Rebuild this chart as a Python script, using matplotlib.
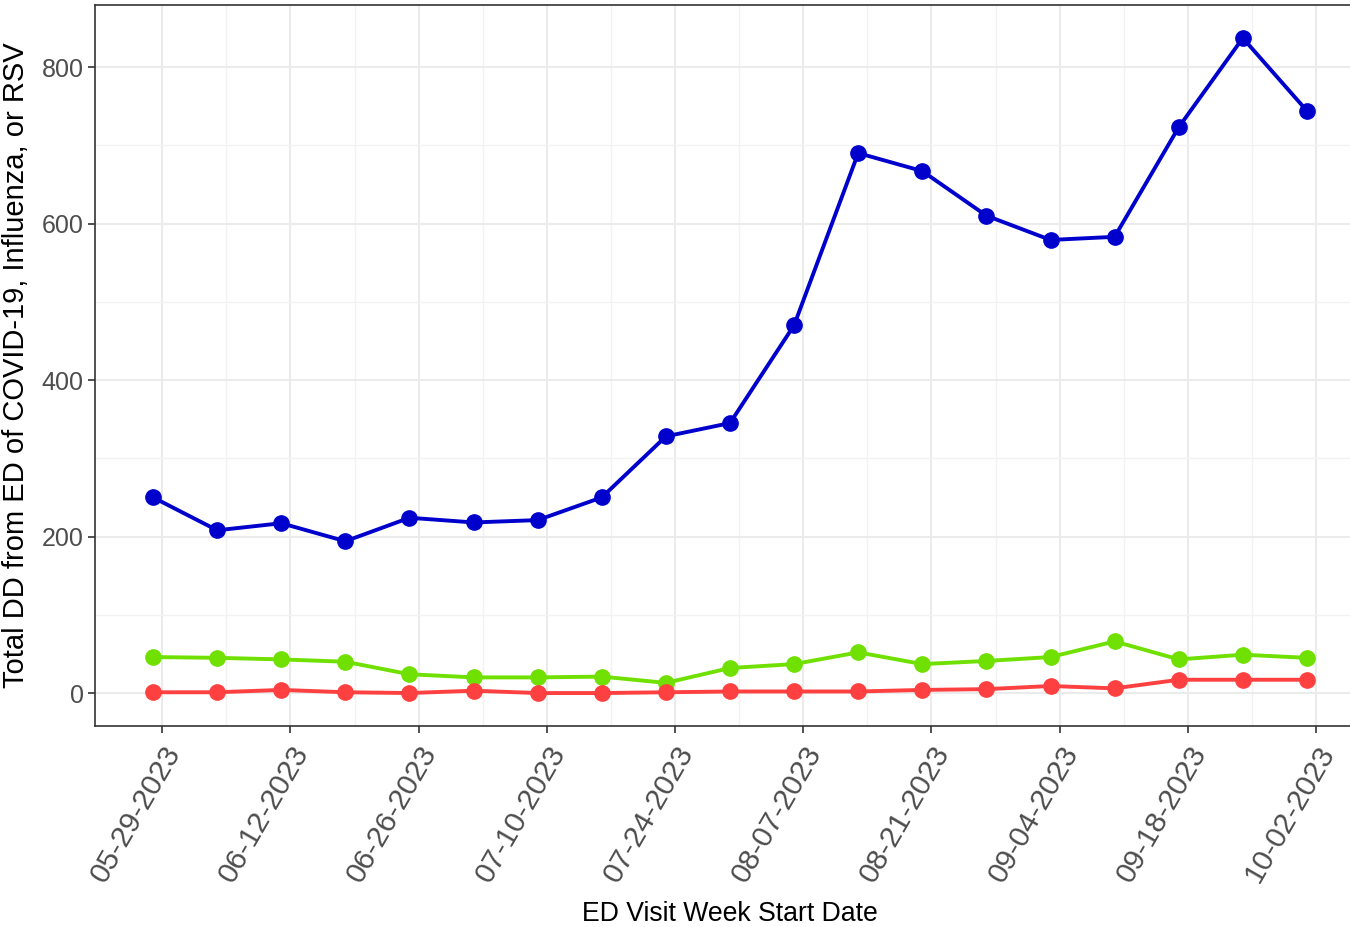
import numpy as np
import matplotlib
matplotlib.use("Agg")
import matplotlib.pyplot as plt
import matplotlib.dates as mdates

# weekly points (Sunday dates), ticks labelled on the Mondays
weeks = np.arange(np.datetime64("2023-05-28"), np.datetime64("2023-10-02"), np.timedelta64(7, "D"))

covid = [250, 208, 217, 194, 224, 218, 221, 250, 328, 345, 470, 690, 667, 610, 579, 583, 723, 837, 744]
flu = [46, 45, 43, 40, 24, 20, 20, 21, 13, 32, 37, 52, 37, 41, 46, 66, 43, 49, 45]
rsv = [1, 1, 4, 1, 0, 3, 0, 0, 1, 2, 2, 2, 4, 5, 9, 6, 17, 17, 17]

tick_dates = np.arange(np.datetime64("2023-05-29"), np.datetime64("2023-10-03"), np.timedelta64(14, "D"))
minor_dates = tick_dates[:-1] + np.timedelta64(7, "D")

plt.rcParams["font.family"] = ["Liberation Sans", "DejaVu Sans"]

fig = plt.figure(figsize=(13.5, 9.27), dpi=100)
ax = fig.add_axes([95.4 / 1350, 1 - 725.8 / 927, 1269.2 / 1350, 720.5 / 927])

x = weeks.astype("datetime64[D]").astype(object)
ax.plot(x, covid, "-o", color="#0000CD", lw=2.8, ms=11, zorder=3)
ax.plot(x, flu, "-o", color="#70E000", lw=2.8, ms=11, zorder=3)
ax.plot(x, rsv, "-o", color="#FF4040", lw=2.8, ms=11, zorder=3)

# ggplot-like 5% expansion
d0 = mdates.date2num(x[0])
d1 = mdates.date2num(x[-1])
pad = (d1 - d0) * 0.05
ax.set_xlim(d0 - pad, d1 + pad)
ax.set_ylim(-837 * 0.05, 837 * 1.05)

ax.set_xticks(mdates.date2num(tick_dates.astype(object)))
ax.set_xticks(mdates.date2num(minor_dates.astype(object)), minor=True)
ax.set_xticklabels([d.strftime("%m-%d-%Y") for d in tick_dates.astype(object)],
                   rotation=60, ha="right", rotation_mode="anchor", fontsize=21.5, color="#4D4D4D")
ax.set_yticks([0, 200, 400, 600, 800])
ax.set_yticks([100, 300, 500, 700], minor=True)
ax.tick_params(axis="y", labelsize=18, labelcolor="#4D4D4D")
ax.tick_params(which="major", length=5, width=1.2, color="#333333")
ax.tick_params(axis="x", pad=6)
ax.tick_params(which="minor", length=0)

ax.grid(which="major", color="#EBEBEB", lw=1.5, zorder=0)
ax.grid(which="minor", color="#F2F2F2", lw=1.0, zorder=0)
ax.set_axisbelow(True)
for s in ax.spines.values():
    s.set_color("#333333")
    s.set_linewidth(1.2)

ax.set_xlabel("ED Visit Week Start Date", fontsize=19.2, color="black", labelpad=10)
ax.set_ylabel("Total DD from ED of COVID-19, Influenza, or RSV", fontsize=21, color="black", labelpad=8)

fig.savefig("out.png", dpi=100)
